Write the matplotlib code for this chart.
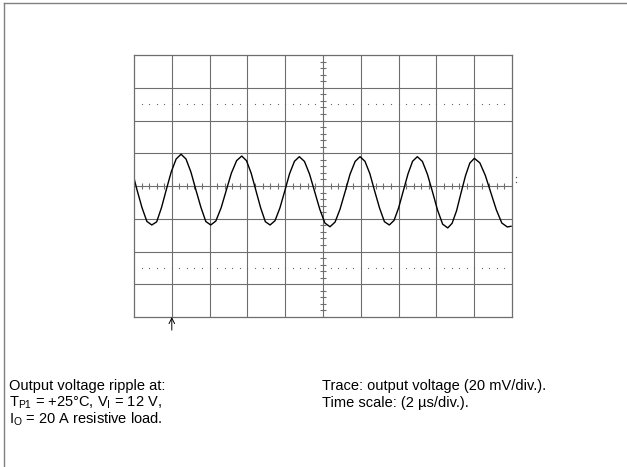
"""Scope capture: output voltage ripple, 20 mV/div, 2 us/div."""
import numpy as np
import matplotlib
matplotlib.use("Agg")
import matplotlib.pyplot as plt
from matplotlib.lines import Line2D

plt.rcParams["font.family"] = ["Liberation Sans", "DejaVu Sans"]
plt.rcParams["mathtext.fontset"] = "custom"
plt.rcParams["mathtext.rm"] = "Liberation Sans"

# trace: time (us) and voltage (mV)
t_us = [0.00, 0.16, 0.42, 0.68, 0.94,
        1.20, 1.46, 1.71, 1.97, 2.23, 2.49,
        2.75, 3.01, 3.27, 3.54, 3.80, 4.06,
        4.33, 4.61, 4.88, 5.15, 5.43, 5.70,
        5.95, 6.20, 6.45, 6.70, 6.95, 7.20,
        7.46, 7.72, 7.98, 8.23, 8.49, 8.75,
        9.02, 9.29, 9.56, 9.83, 10.10, 10.37,
        10.64, 10.90, 11.17, 11.43, 11.70, 11.96,
        12.22, 12.48, 12.73, 12.99, 13.25, 13.51,
        13.76, 14.00, 14.25, 14.50, 14.74, 14.99,
        15.26, 15.53, 15.80, 16.06, 16.33, 16.60,
        16.83, 17.07, 17.30, 17.54, 17.77, 18.01,
        18.30, 18.59, 18.88, 19.17, 19.46, 19.75, 19.95]
v_mv = [4.8, -2.4, -13.1, -21.6, -23.8,
        -21.9, -13.0, -2.2, 8.6, 16.5, 19.4,
        16.5, 8.6, -2.2, -13.0, -21.7, -23.8,
        -21.4, -13.3, -2.75, 7.8, 15.5, 18.3,
        15.5, 7.8, -2.75, -13.3, -21.8, -23.8,
        -21.2, -13.4, -2.95, 7.5, 15.1, 17.9,
        15.0, 7.2, -3.5, -14.2, -22.6, -24.9,
        -22.0, -14.2, -3.5, 7.2, 15.0, 17.9,
        15.1, 7.5, -2.95, -13.4, -21.8, -23.8,
        -21.0, -13.4, -2.95, 7.5, 15.1, 17.9,
        15.0, 7.0, -3.85, -14.7, -23.3, -25.6,
        -22.8, -15.0, -4.35, 6.3, 14.05, 16.9,
        14.1, 6.4, -4.05, -14.5, -22.6, -25.0, -24.6]

t_div, v_div = 2.0, 20.0        # us/div, mV/div
n_x, n_y = 10, 8
trig_t = 2.0                     # trigger position (us)

note_left = ["Output voltage ripple at:",
             r"T$_\mathregular{P1}$ = +25°C, V$_\mathregular{I}$ = 12 V,",
             r"I$_\mathregular{O}$ = 20 A resistive load."]
note_right = ["Trace: output voltage (20 mV/div.).",
              "Time scale: (2 µs/div.)."]

fig = plt.figure(figsize=(6.27, 4.67), dpi=100)
ax = fig.add_axes([134 / 627, 150 / 467, 378 / 627, 262 / 467])
x_max, y_max = n_x * t_div, n_y / 2 * v_div
ax.set_xlim(0, x_max)
ax.set_ylim(-y_max, y_max)
ax.set_xticks([])
ax.set_yticks([])
grid_c = "#6e6e6e"
for s in ax.spines.values():
    s.set_color(grid_c)
    s.set_linewidth(0.9)

# graticule
for k in range(1, n_x):
    ax.axvline(k * t_div, color=grid_c, lw=0.8)
for k in range(1, n_y):
    ax.axhline(-y_max + k * v_div, color=grid_c, lw=0.8)

# minor ticks on the centre lines
xm = np.arange(0, x_max + 1e-9, t_div / 5)
ym = np.arange(-y_max, y_max + 1e-9, v_div / 5)
ax.vlines(xm, -1.6, 1.6, color=grid_c, lw=0.8)
ax.hlines(ym, x_max / 2 - 0.16, x_max / 2 + 0.16, color=grid_c, lw=0.8)

# dotted lines at +/- 2.5 div
for yd in (2.5 * v_div, -2.5 * v_div):
    ax.plot(xm[1:-1], np.full(len(xm) - 2, yd), ls="none", marker="s",
            ms=0.8, mew=0, color="#666666")

ax.plot(t_us, v_mv, color="black", lw=1.0)

# trigger markers
ax.annotate("", xy=(trig_t, -y_max), xytext=(trig_t, -y_max - 8.0),
            arrowprops=dict(arrowstyle="->", lw=0.7, color="black",
                            shrinkA=0, shrinkB=0), annotation_clip=False)
ax.plot([x_max + 0.2, x_max + 0.2], [2.5, 5.5], ls="none", marker="s",
        ms=0.9, mew=0, color="#555555", clip_on=False)

# page frame
fig.add_artist(Line2D([4 / 627, 1], [1 - 3 / 467] * 2, color="#808080",
                      lw=1.0, transform=fig.transFigure))
fig.add_artist(Line2D([4 / 627] * 2, [0, 1 - 3 / 467], color="#808080",
                      lw=1.0, transform=fig.transFigure))

for i, line in enumerate(note_left):
    fig.text(9 / 627, 1 - (390 + 16.5 * i) / 467, line, fontsize=10.5,
             va="baseline", ha="left")
for i, line in enumerate(note_right):
    fig.text(322 / 627, 1 - (390 + 16.5 * i) / 467, line, fontsize=10.5,
             va="baseline", ha="left")

fig.savefig("out.png", dpi=100)
